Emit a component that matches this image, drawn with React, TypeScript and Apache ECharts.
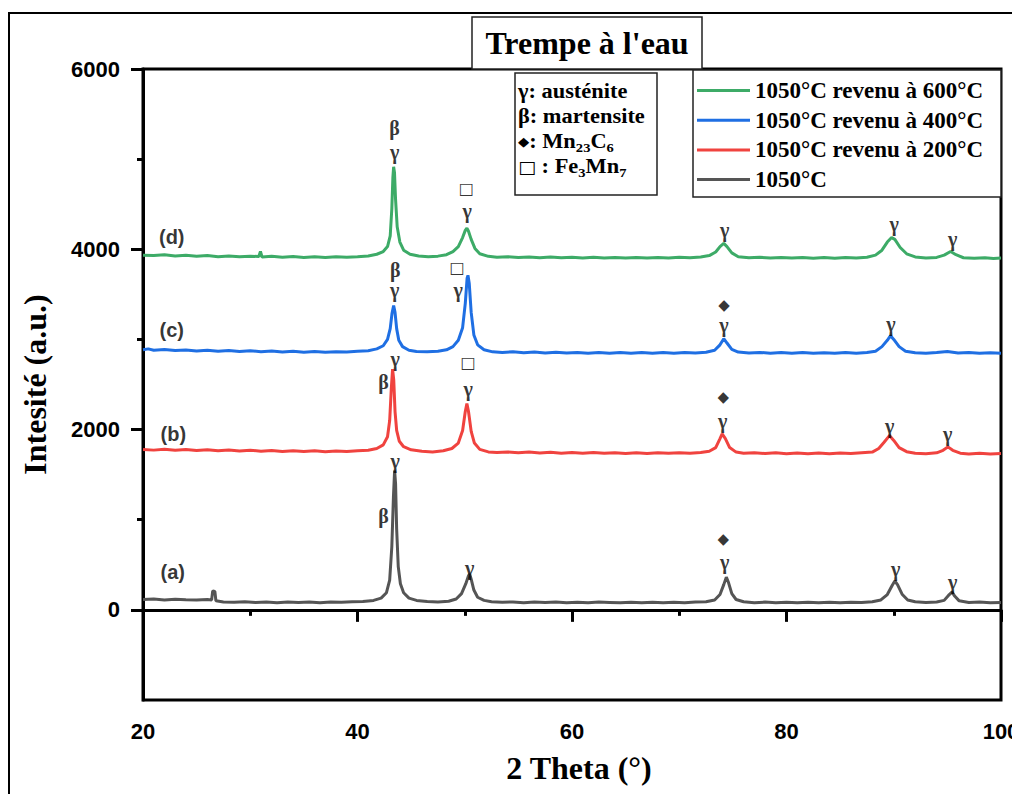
import React, { useEffect, useRef } from 'react';
import * as echarts from 'echarts';

// ---- axis values ----
const xMin = 20;
const xMax = 100;
const xInterval = 20;
const yMin = -1000;
const yMax = 6000;
const yMajorTicks = [0, 2000, 4000, 6000];
const yMinorTicks = [1000, 3000, 5000];

// ---- series ----
const seriesNames = ['1050°C revenu à 600°C', '1050°C revenu à 400°C', '1050°C revenu à 200°C', '1050°C'];
const seriesColors = ['#3dab67', '#1f6fe3', '#f0433f', '#555555'];

const curveD: [number, number][] = [
  [20,3935],[21,3930],[22,3940],[23,3926],[24,3934],[25,3922],[26,3930],[27,3918],[28,3926],[29,3916],[30,3924],[30.8,3920],[30.95,3975],[31.1,3915],[32,3922],[33,3912],[34,3920],[35,3910],[36,3918],[37,3910],[38,3916],[39,3912],[40,3918],[41,3925],[41.8,3945],[42.4,3975],[42.8,4030],[43.05,4150],[43.2,4450],[43.3,4800],[43.37,4915],[43.45,4850],[43.55,4550],[43.7,4250],[43.95,4080],[44.3,3990],[44.9,3945],[45.7,3925],[46.6,3918],[47.5,3924],[48.3,3940],[48.9,3975],[49.4,4030],[49.8,4130],[50.05,4210],[50.2,4235],[50.35,4200],[50.6,4110],[50.95,4010],[51.4,3950],[52.2,3922],[53,3912],[54,3918],[55,3908],[56,3915],[57,3906],[58,3914],[59,3905],[60,3912],[61,3904],[62,3912],[63,3904],[64,3910],[65,3902],[66,3910],[67,3902],[68,3910],[69,3904],[70,3912],[71,3905],[72,3914],[72.8,3930],[73.4,3970],[73.8,4030],[74.15,4065],[74.45,4030],[74.9,3960],[75.5,3918],[76.5,3906],[77.5,3912],[78.5,3903],[79.5,3910],[80.5,3902],[81.5,3910],[82.5,3900],[83.5,3908],[84.5,3900],[85.5,3908],[86.5,3902],[87.5,3912],[88.3,3935],[88.9,3990],[89.4,4080],[89.8,4130],[90.1,4110],[90.6,4020],[91.2,3950],[92,3915],[93,3904],[94,3910],[94.7,3935],[95.3,3975],[95.8,3940],[96.5,3906],[97.5,3900],[98.5,3906],[99.3,3898],[100,3902]
];

const curveC: [number, number][] = [
  [20,2885],[20.5,2895],[21,2880],[22,2888],[23,2876],[24,2884],[25,2872],[26,2880],[27,2870],[28,2878],[29,2866],[30,2874],[31,2864],[32,2872],[33,2860],[34,2868],[35,2858],[36,2866],[37,2858],[38,2864],[39,2860],[40,2868],[41,2875],[41.8,2895],[42.4,2930],[42.8,3000],[43.05,3120],[43.22,3290],[43.37,3375],[43.5,3300],[43.65,3120],[43.85,2990],[44.2,2920],[44.8,2880],[45.5,2866],[46.5,2862],[47.5,2868],[48.3,2885],[48.9,2920],[49.4,2990],[49.8,3130],[50.05,3400],[50.22,3680],[50.3,3711],[50.42,3620],[50.6,3300],[50.85,3050],[51.2,2940],[51.8,2885],[52.6,2862],[53.5,2856],[54.5,2862],[55.5,2852],[56.5,2860],[57.5,2850],[58.5,2858],[59.5,2850],[60.5,2856],[61.5,2848],[62.5,2856],[63.5,2848],[64.5,2855],[65.5,2846],[66.5,2854],[67.5,2846],[68.5,2854],[69.5,2848],[70.5,2856],[71.5,2850],[72.5,2858],[73.3,2880],[73.8,2940],[74.15,3008],[74.45,2960],[74.9,2890],[75.5,2860],[76.5,2850],[77.5,2856],[78.5,2848],[79.5,2855],[80.5,2846],[81.5,2854],[82.5,2846],[83.5,2852],[84.5,2846],[85.5,2854],[86.5,2848],[87.5,2856],[88.3,2870],[88.9,2920],[89.4,2990],[89.7,3041],[90.0,3000],[90.5,2920],[91.1,2870],[92,2852],[93,2848],[94,2855],[95,2866],[96,2850],[97,2854],[98,2846],[99,2852],[100,2848]
];

const curveB: [number, number][] = [
  [20,1780],[21,1772],[22,1782],[23,1770],[24,1778],[25,1768],[26,1776],[27,1766],[28,1774],[29,1762],[30,1770],[31,1760],[32,1768],[33,1758],[34,1766],[35,1756],[36,1764],[37,1755],[38,1762],[39,1756],[40,1765],[41,1770],[41.8,1790],[42.4,1830],[42.8,1920],[43.0,2100],[43.15,2450],[43.27,2670],[43.38,2550],[43.5,2200],[43.65,1990],[43.9,1870],[44.3,1810],[45,1775],[46,1760],[47,1752],[48,1765],[48.8,1790],[49.4,1850],[49.8,1990],[50.05,2200],[50.2,2290],[50.35,2200],[50.6,1980],[50.9,1850],[51.4,1780],[52.2,1752],[53,1745],[54,1752],[55,1742],[56,1750],[57,1740],[58,1748],[59,1738],[60,1746],[61,1738],[62,1745],[63,1736],[64,1744],[65,1735],[66,1742],[67,1734],[68,1742],[69,1736],[70,1744],[71,1736],[72,1745],[72.8,1760],[73.4,1800],[73.8,1900],[74.0,1952],[74.3,1900],[74.7,1800],[75.3,1750],[76,1738],[77,1744],[78,1734],[79,1742],[80,1733],[81,1740],[82,1732],[83,1740],[84,1732],[85,1740],[86,1734],[87,1742],[88,1750],[88.6,1790],[89.1,1860],[89.6,1933],[90.0,1880],[90.5,1800],[91.2,1755],[92,1738],[93,1732],[94,1742],[94.6,1770],[95.05,1808],[95.5,1770],[96.2,1738],[97,1730],[98,1738],[99,1728],[100,1734]
];

const curveA: [number, number][] = [
  [20,115],[21,120],[22,110],[23,118],[24,112],[25,108],[26,114],[26.4,110],[26.5,210],[26.7,205],[26.8,100],[27.5,88],[28.5,84],[29.5,90],[30.5,82],[31.5,86],[32.5,80],[33.5,88],[34.5,82],[35.5,86],[36.5,80],[37.5,88],[38.5,84],[39.5,90],[40.5,92],[41.5,105],[42.2,130],[42.7,190],[43.0,330],[43.2,700],[43.35,1250],[43.46,1545],[43.55,1400],[43.65,900],[43.8,480],[44.0,290],[44.3,190],[44.8,130],[45.5,105],[46.5,92],[47.5,88],[48.5,95],[49.2,120],[49.7,180],[50.1,290],[50.35,380],[50.46,397],[50.6,340],[50.85,220],[51.2,140],[51.8,105],[52.5,90],[53.5,84],[54.5,88],[55.5,80],[56.5,86],[57.5,82],[58.5,88],[59.5,80],[60.5,85],[61.5,80],[62.5,86],[63.5,82],[64.5,78],[65.5,85],[66.5,80],[67.5,84],[68.5,78],[69.5,85],[70.5,80],[71.5,86],[72.5,90],[73.3,110],[73.8,170],[74.15,280],[74.39,363],[74.6,300],[74.9,180],[75.3,115],[76,90],[77,80],[78,86],[79,80],[80,84],[81,78],[82,85],[83,80],[84,84],[85,78],[86,84],[87,82],[88,90],[88.8,110],[89.4,170],[89.85,270],[90.1,320],[90.35,280],[90.8,170],[91.3,110],[92,90],[93,82],[94,88],[94.7,105],[95.1,160],[95.43,197],[95.7,150],[96.1,100],[97,82],[98,86],[99,78],[100,82]
];

// ---- peak annotations: [2θ, intensity, symbol] ----
const peakMarks: [number, number, string][] = [
  [43.46, 5341, 'β'], [43.46, 5082, 'γ'], [50.15, 4670, '□'], [50.22, 4422, 'γ'], [74.24, 4211, 'γ'], [90.04, 4285, 'γ'], [95.49, 4119, 'γ'],
  [43.52, 3767, 'β'], [43.46, 3544, 'γ'], [49.28, 3800, '□'], [49.38, 3544, 'γ'], [74.17, 3378, '◆'], [74.17, 3156, 'γ'], [89.73, 3174, 'γ'],
  [43.52, 2778, 'γ'], [42.43, 2527, 'β'], [50.31, 2740, '□'], [50.31, 2452, 'γ'], [74.11, 2360, '◆'], [74.05, 2100, 'γ'], [89.61, 2044, 'γ'], [95.02, 1952, 'γ'],
  [43.52, 1656, 'γ'], [42.43, 1044, 'β'], [50.46, 463, 'γ'], [74.11, 786, '◆'], [74.24, 533, 'γ'], [90.18, 452, 'γ'], [95.49, 311, 'γ'],
];

// ---- curve tags: [2θ, intensity, text] ----
const curveTags: [number, number, string][] = [
  [22.68, 4138, '(d)'], [22.68, 3100, '(c)'], [22.83, 1952, '(b)'], [22.77, 416, '(a)'],
];

const titleText = "Trempe à l'eau";
const xName = '2 Theta (°)';
const yName = 'Intesité (a.u.)';

const SERIF = '"Liberation Serif", "Times New Roman", serif';
const SANS = '"Liberation Sans", Arial, sans-serif';

function markStyle(s: string) {
  if (s === '◆') return { fontSize: 15, fontFamily: '"DejaVu Sans", sans-serif', fontWeight: 'normal' as const };
  if (s === '□') return { fontSize: 16, fontFamily: '"DejaVu Sans", sans-serif', fontWeight: 'normal' as const };
  return { fontSize: 20, fontFamily: SERIF, fontWeight: 'bold' as const };
}

export default function App() {
  const ref = useRef<HTMLDivElement>(null);
  useEffect(() => {
    if (!ref.current) return;
    const chart = echarts.init(ref.current, undefined, { renderer: 'svg' });
    const curves = [curveD, curveC, curveB, curveA];
    const lineSeries = curves.map((c, i) => ({
      name: seriesNames[i],
      type: 'line',
      data: c,
      showSymbol: false,
      symbol: 'none',
      color: seriesColors[i],
      lineStyle: { width: 3, color: seriesColors[i] },
      z: 3,
    }));
    const W = chart.getWidth();
    const H = chart.getHeight();
    const option: any = {
      animation: false,
      backgroundColor: '#fff',
      grid: { left: 143, right: 11, top: 69, bottom: 94, show: true, borderColor: '#000', borderWidth: 3, backgroundColor: 'transparent', outerBoundsMode: 'none', containLabel: false },
      xAxis: {
        type: 'value', min: xMin, max: xMax, interval: xInterval,
        name: xName, nameLocation: 'middle', nameGap: 52,
        nameTextStyle: { fontFamily: SERIF, fontWeight: 'bold', fontSize: 32, color: '#000', padding: [0, 0, 0, 14] },
        axisLine: { show: true, lineStyle: { color: '#000', width: 3 } },
        axisTick: { show: true, inside: false, length: 12, lineStyle: { color: '#000', width: 3 } },
        minorTick: { show: true, splitNumber: 2, length: 6, lineStyle: { color: '#000', width: 3 } },
        axisLabel: { fontFamily: SANS, fontWeight: 'bold', fontSize: 22, color: '#000', margin: 20 },
        splitLine: { show: false },
      },
      yAxis: [
        {
          type: 'value', min: yMin, max: yMax, position: 'left',
          name: yName, nameLocation: 'middle', nameGap: 92, nameRotate: 90,
          nameTextStyle: { fontFamily: SERIF, fontWeight: 'bold', fontSize: 32, color: '#000' },
          axisLine: { show: true, lineStyle: { color: '#000', width: 3 } },
          axisTick: { show: true, inside: false, length: 12, customValues: yMajorTicks, lineStyle: { color: '#000', width: 3 } },
          axisLabel: { customValues: yMajorTicks, formatter: (v: number) => String(v), fontFamily: SANS, fontWeight: 'bold', fontSize: 22, color: '#000', margin: 23 },
          splitLine: { show: false },
        },
        {
          type: 'value', min: yMin, max: yMax, position: 'left',
          axisLine: { show: false },
          axisTick: { show: true, inside: false, length: 6, customValues: yMinorTicks, lineStyle: { color: '#000', width: 3 } },
          axisLabel: { show: false },
          splitLine: { show: false },
        },
      ],
      legend: {
        orient: 'vertical', left: 697, top: 79, padding: 0, itemGap: 6.7, z: 30,
        itemWidth: 53, itemHeight: 3, icon: 'rect', selectedMode: false,
        data: seriesNames,
        textStyle: { fontFamily: SERIF, fontWeight: 'bold', fontSize: 23, color: '#000', lineHeight: 20 },
      },
      series: [
        ...lineSeries,
        {
          type: 'scatter', name: 'marks', silent: true, symbolSize: 0, z: 5,
          data: peakMarks.map(([x, y, s]) => ({
            value: [x, y],
            label: { show: true, position: 'inside', formatter: s, color: '#000', ...markStyle(s) },
          })),
        },
        {
          type: 'scatter', name: 'tags', silent: true, symbolSize: 0, z: 5,
          data: curveTags.map(([x, y, s]) => ({
            value: [x, y],
            label: { show: true, position: 'inside', formatter: s, color: '#000', fontFamily: SANS, fontWeight: 'bold', fontSize: 20 },
          })),
        },
      ],
      graphic: [
        { type: 'polyline', z: 0, silent: true, shape: { points: [[9, H + 20], [9, 13], [W + 20, 13]] }, style: { fill: 'none', stroke: '#000', lineWidth: 2 } },
        { type: 'rect', z: 10, silent: true, shape: { x: 472, y: 17, width: 230, height: 52 }, style: { fill: '#fff', stroke: '#222', lineWidth: 1.5 } },
        { type: 'text', z: 11, silent: true, x: 587, y: 43, style: { text: titleText, fontFamily: SERIF, fontWeight: 'bold', fontSize: 32, fill: '#000', align: 'center', verticalAlign: 'middle' } },
        { type: 'rect', z: 10, silent: true, shape: { x: 515, y: 73, width: 142, height: 122 }, style: { fill: '#fff', stroke: '#222', lineWidth: 1.5 } },
        {
          type: 'text', z: 11, silent: true, x: 518, y: 79, scaleX: 1.12,
          style: {
            text: '{t|γ: austénite}\n{t|β: martensite}\n{d|◆}{t|: Mn}{s|23}{t|C}{s|6}\n{q|□}{t| : Fe}{s|3}{t|Mn}{s|7}',
            fill: '#000',
            rich: {
              t: { fontFamily: SERIF, fontWeight: 'bold', fontSize: 20, lineHeight: 25, fill: '#000' },
              s: { fontFamily: SERIF, fontWeight: 'bold', fontSize: 13, lineHeight: 14, verticalAlign: 'bottom', fill: '#000' },
              d: { fontFamily: '"DejaVu Sans", sans-serif', fontSize: 13, lineHeight: 25, fill: '#000' },
              q: { fontFamily: '"DejaVu Sans", sans-serif', fontSize: 17, lineHeight: 25, fill: '#000' },
            },
          },
        },
        { type: 'rect', z: 10, silent: true, shape: { x: 693, y: 70, width: 308, height: 127 }, style: { fill: '#fff', stroke: '#222', lineWidth: 1.5 } },
      ],
    };
    chart.setOption(option);
    return () => chart.dispose();
  }, []);
  return <div ref={ref} style={{ position: 'absolute', left: 0, top: 0, width: 1012, height: 794 }} />;
}
